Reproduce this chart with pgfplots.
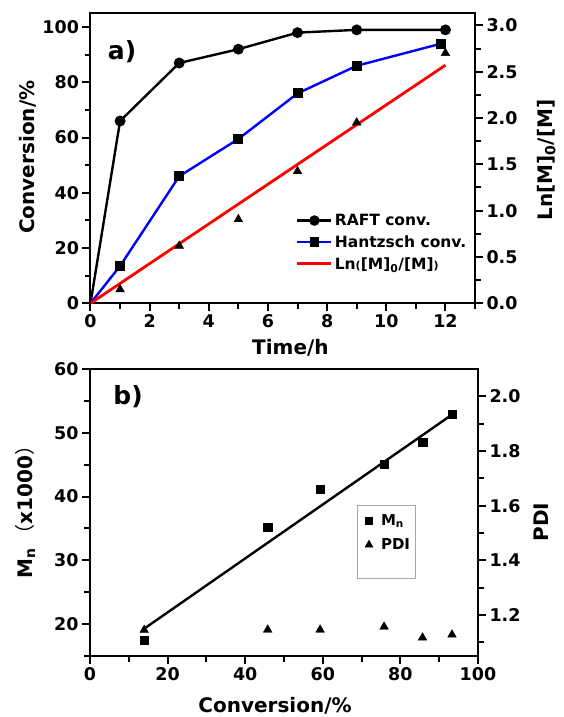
\documentclass[border=0pt]{standalone}
\usepackage{fontspec}
\setmainfont{DejaVu Sans}
\newfontfamily\cjk{Noto Sans CJK SC}
\usepackage{pgfplots}
\pgfplotsset{compat=1.18}

\pgfplotsset{
  figstyle/.style={
    scale only axis,
    axis line style={line width=2pt},
    tick style={line width=2pt, black},
    every tick/.append style={line width=2pt, black},
    every minor tick/.append style={line width=2pt, black},
    major tick length=8pt, minor tick length=5.5pt,
    tick align=outside,
    /pgf/number format/assume math mode=true,
    tick label style={font=\bfseries\fontsize{17.5}{19}\selectfont},
    label style={font=\bfseries\fontsize{20}{22}\selectfont},
  },
  onedec/.style={yticklabel style={/pgf/number format/.cd, fixed, fixed zerofill, precision=1}},
}

\begin{document}
\begin{tikzpicture}
\useasboundingbox (-90.5pt,-413.7pt) rectangle (472.5pt,303.3pt);

% ---- a) conversion vs time
\begin{axis}[figstyle, at={(0,0)}, anchor=south west,
  width=384.5pt, height=290pt,
  xmin=0, xmax=13, ymin=0, ymax=105,
  xtick={0,2,4,6,8,10,12}, minor xtick={1,3,5,7,9,11,13},
  ytick={0,20,40,60,80,100}, minor ytick={10,30,50,70,90},
  tick pos=left,
  xlabel={Time/h}, ylabel={Conversion/\%},
  xlabel style={at={(axis description cs:0.52,-0.154)}, anchor=center},
  ylabel style={at={(axis description cs:-0.1625,0.504)}, anchor=center},
  legend style={draw=none, fill=none, at={(0.534,0.315)}, anchor=north west,
    font=\bfseries\fontsize{15.5}{17}\selectfont, inner sep=0pt, row sep=4.5pt},
  legend cell align=left,
  legend image code/.code={\draw[mark repeat=2, mark phase=2, #1] plot coordinates {(0pt,0pt) (17pt,0pt) (34pt,0pt)};},
]
\addlegendimage{black, line width=2.4pt, mark=*, mark size=4pt}
\addlegendentry{RAFT conv.}
\addlegendimage{blue, line width=2.4pt, mark=square*, mark size=3.6pt, mark options={black}}
\addlegendentry{Hantzsch conv.}
\addlegendimage{red, line width=2.8pt}
\addlegendentry{Ln{\fontsize{11}{12}\selectfont(}[M]\textsubscript{0}/[M]{\fontsize{11}{12}\selectfont)}}

\addplot[black, line width=2.4pt, mark=*, mark size=4.2pt, mark indices={2,3,4,5,6,7}, forget plot]
  coordinates {(0,0) (1,66) (3,87) (5,92) (7,98) (9,99) (12,99)};
\addplot[blue, line width=2.4pt, mark=square*, mark size=3.8pt, mark options={black}, mark indices={2,3,4,5,6,7}, forget plot]
  coordinates {(0,0) (1,13.5) (3,46) (5,59.5) (7,76) (9,86) (11.85,94)};
\node[font=\bfseries\fontsize{25}{28}\selectfont] at (axis description cs:0.082,0.867) {a)};
\end{axis}

\begin{axis}[figstyle, onedec, at={(0,0)}, anchor=south west,
  width=384.5pt, height=290pt,
  xmin=0, xmax=13, ymin=0, ymax=3.13,
  axis y line*=right, axis x line=none,
  ytick={0,0.5,1,1.5,2,2.5,3}, minor ytick={0.25,0.75,1.25,1.75,2.25,2.75},
  ylabel={Ln[M]\textsubscript{0}/[M]},
  ylabel style={at={(axis description cs:1.185,0.494)}, anchor=center},
]
\addplot[red, line width=2.8pt] coordinates {(0,0) (12,2.57)};
\addplot[only marks, mark=triangle*, mark size=5pt, black]
  coordinates {(1,0.15) (3,0.62) (5,0.907) (7,1.425) (9,1.95) (12,2.70)};
\end{axis}

% ---- b) Mn and PDI vs conversion
\begin{axis}[figstyle, at={(-0.5pt,-65.7pt)}, anchor=north west,
  width=388pt, height=287pt,
  xmin=0, xmax=100, ymin=15, ymax=60,
  xtick={0,20,40,60,80,100}, minor xtick={10,30,50,70,90},
  ytick={20,30,40,50,60}, minor ytick={15,25,35,45,55},
  tick pos=left,
  xlabel={Conversion/\%},
  ylabel={M\textsubscript{n}\,{\cjk\mdseries （}x1000{\cjk\mdseries ）}},
  xlabel style={at={(axis description cs:0.477,-0.175)}, anchor=center},
  ylabel style={at={(axis description cs:-0.1675,0.519)}, anchor=center},
  legend style={draw=none, fill=none, at={(0.698,0.502)}, anchor=north west,
    font=\bfseries\fontsize{15}{17}\selectfont, inner sep=0pt, row sep=8pt},
  legend cell align=left,
  legend image code/.code={\draw[#1] plot coordinates {(8pt,0pt)}; \path[draw=none, fill=none] (0pt,-5pt) rectangle (18pt,5pt);},
]
\addlegendimage{only marks, mark=square*, mark size=3.5pt, black}
\addlegendentry{M\textsubscript{n}}
\addlegendimage{only marks, mark=triangle*, mark size=4.6pt, black}
\addlegendentry{PDI}
\addplot[only marks, mark=square*, mark size=4.2pt, black, forget plot]
  coordinates {(13.96,17.5) (45.8,35.15) (59.3,41.2) (75.8,45.1) (85.7,48.5) (93.3,52.9)};
\addplot[black, line width=2.4pt, forget plot] coordinates {(14,19.3) (93.2,52.8)};
\draw[gray!70, line width=0.8pt] (axis description cs:0.688,0.526) rectangle (axis description cs:0.838,0.272);
\node[font=\bfseries\fontsize{25}{28}\selectfont] at (axis description cs:0.098,0.902) {b)};
\end{axis}

\begin{axis}[figstyle, onedec, at={(-0.5pt,-65.7pt)}, anchor=north west,
  width=388pt, height=287pt,
  xmin=0, xmax=100, ymin=1.05, ymax=2.1,
  axis y line*=right, axis x line=none,
  ytick={1.2,1.4,1.6,1.8,2.0}, minor ytick={1.1,1.3,1.5,1.7,1.9},
  ylabel={PDI},
  ylabel style={at={(axis description cs:1.162,0.467)}, anchor=center},
]
\addplot[only marks, mark=triangle*, mark size=5pt, black]
  coordinates {(13.96,1.145) (45.8,1.146) (59.3,1.146) (75.8,1.157) (85.7,1.117) (93.3,1.128)};
\end{axis}
\end{tikzpicture}
\end{document}
